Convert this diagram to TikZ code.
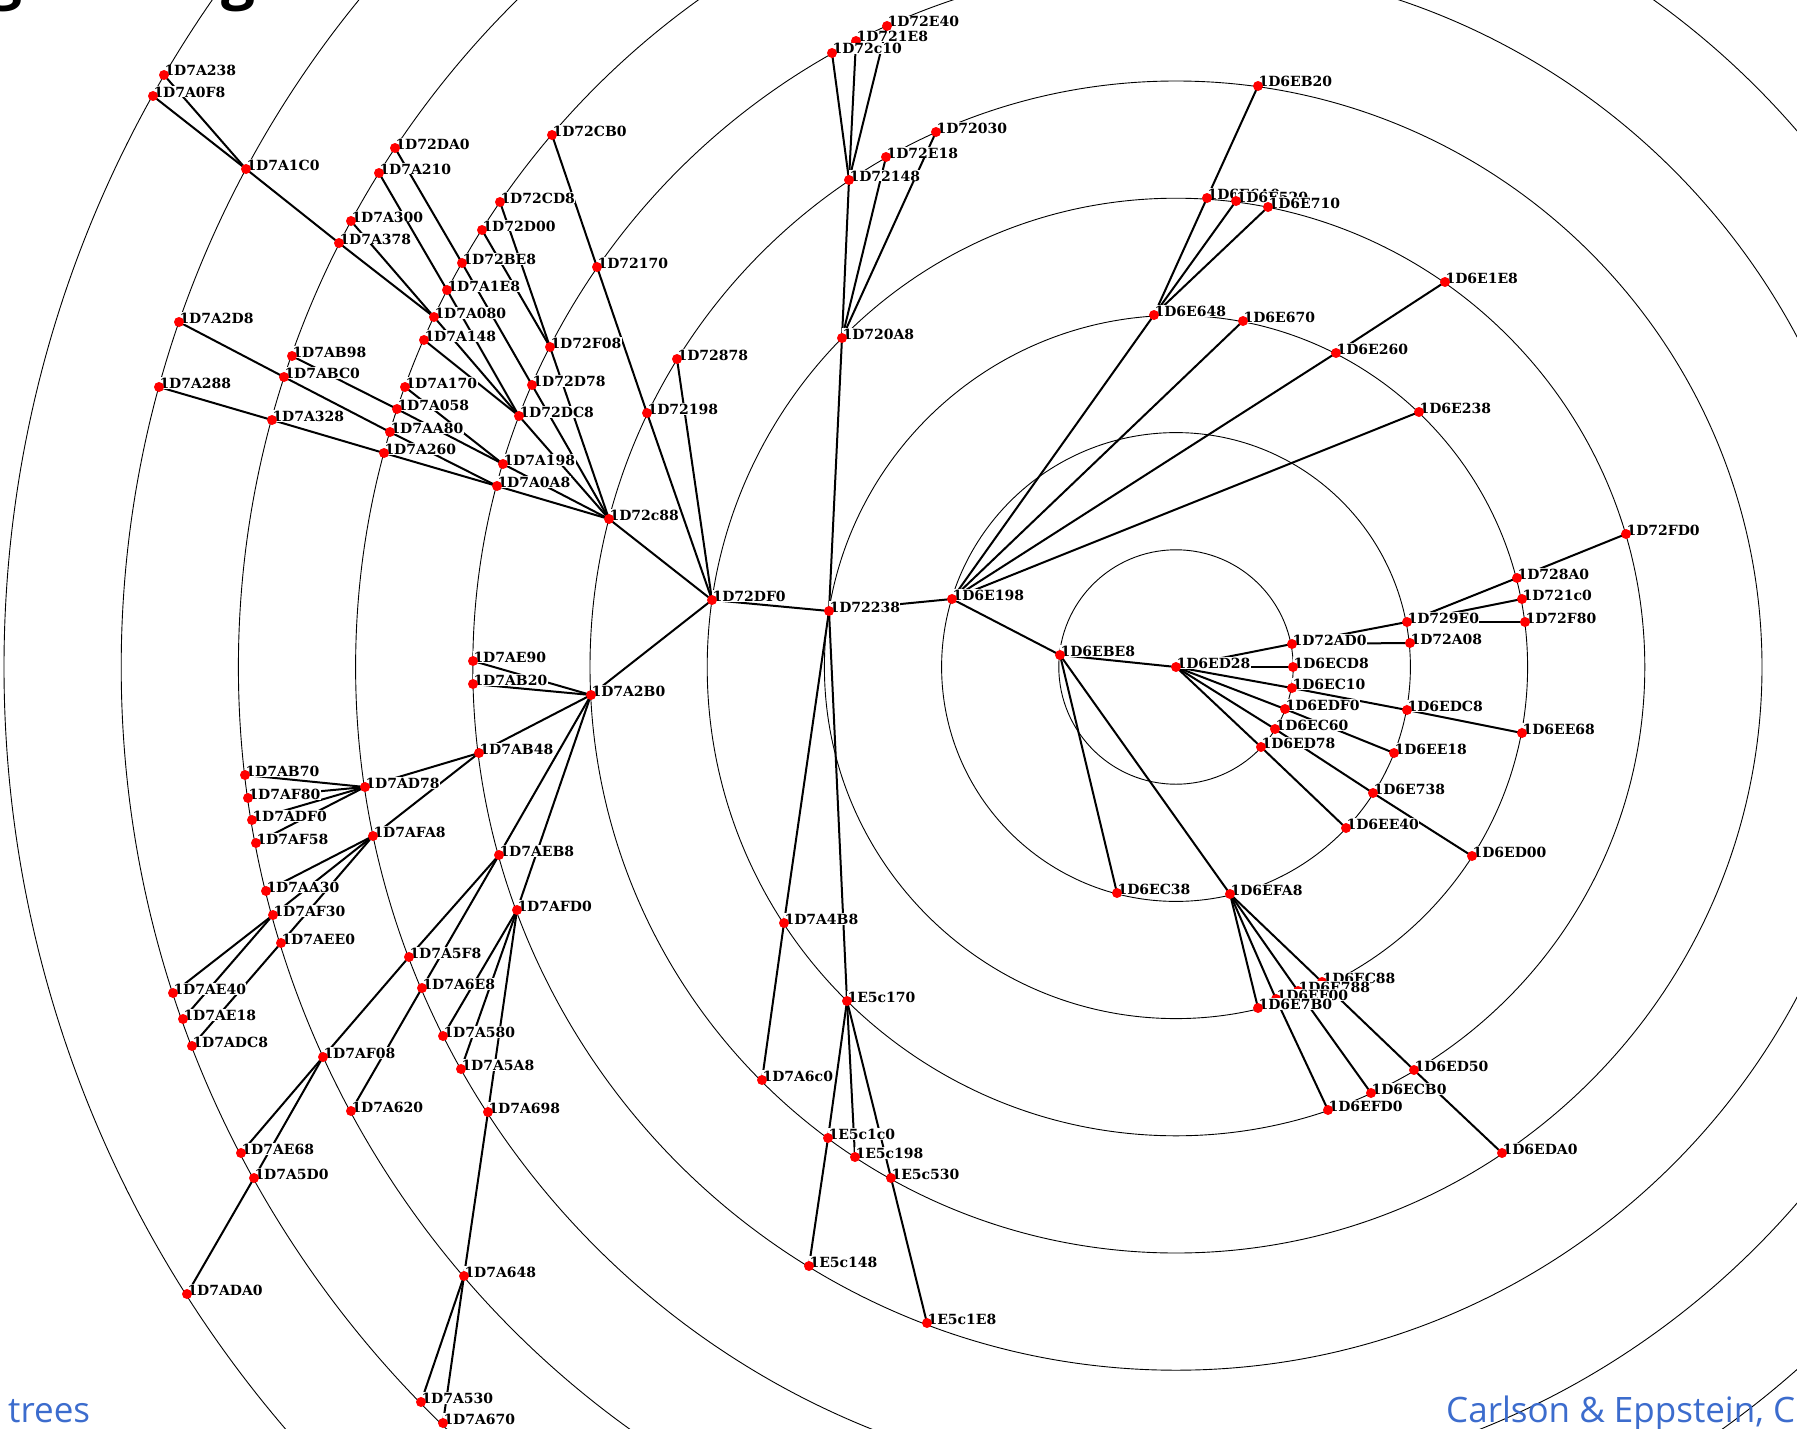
\documentclass[tikz,border=0pt]{standalone}
\usepackage{fontspec}
\setmainfont{Liberation Serif}
\newfontfamily\footfont{Open Sans}
\newfontfamily\labfont{DejaVu Serif}
\definecolor{footblue}{RGB}{60,108,205}
\newcommand\lb[2]{\node[lab] at (#1) {#2};\fill[dotc] (#1) circle[radius=5];}
\begin{document}
\begin{tikzpicture}[x=1pt,y=-1pt,
  ring/.style={line width=0.9pt,black},
  edge/.style={line width=2pt,black},
  lab/.style={anchor=base west,fill=white,inner sep=0.3pt,yshift=-1pt,font=\labfont\bfseries\fontsize{14}{14}\selectfont},
  dotc/.style={fill=red},
  foot/.style={anchor=base west,inner sep=0,text=footblue,font=\footfont\fontsize{35}{35}\selectfont}]
\useasboundingbox (0,0) rectangle (1797,1429);
\coordinate (ctr) at (1176,667);
\foreach \k in {1,...,10} \draw[ring] (ctr) circle[radius=117.2*\k];
% ---- coordinates
\coordinate (eD28) at (1176,667);
\coordinate (eBE8) at (1060,655);
\coordinate (pAD0) at (1292,644);
\coordinate (eCD8) at (1293,667);
\coordinate (eC10) at (1292,688);
\coordinate (eDF0) at (1285,709);
\coordinate (eC60) at (1275,729);
\coordinate (eD78) at (1261,747);
\coordinate (p9E0) at (1407,622);
\coordinate (pA08) at (1410,643);
\coordinate (p8A0) at (1517,578);
\coordinate (p1C0) at (1522,599);
\coordinate (pF80) at (1525,622);
\coordinate (pFD0) at (1626,534);
\coordinate (eDC8) at (1407,710);
\coordinate (eE68) at (1522,733);
\coordinate (eE18) at (1394,753);
\coordinate (e738) at (1373,793);
\coordinate (eD00) at (1472,856);
\coordinate (eE40) at (1346,828);
\coordinate (eC38) at (1117,893);
\coordinate (eFA8) at (1230,894);
\coordinate (e7B0) at (1258,1008);
\coordinate (eX00) at (1276,999);
\coordinate (e788) at (1298,991);
\coordinate (eC88) at (1322,982);
\coordinate (eD50) at (1414,1070);
\coordinate (eCB0) at (1371,1093);
\coordinate (eFD0) at (1328,1110);
\coordinate (eDA0) at (1502,1153);
\coordinate (e198) at (952,599);
\coordinate (e648) at (1154,315);
\coordinate (e670) at (1243,321);
\coordinate (e260) at (1336,353);
\coordinate (e1E8) at (1445,282);
\coordinate (e238) at (1419,412);
\coordinate (eB20) at (1258,86);
\coordinate (eXA) at (1207,198);
\coordinate (eXB) at (1236,201);
\coordinate (e710) at (1268,207);
\coordinate (p238) at (829,611);
\coordinate (p0A8) at (842,338);
\coordinate (p148) at (849,180);
\coordinate (pC10) at (832,53);
\coordinate (p1E8) at (856,41);
\coordinate (pE40) at (887,26);
\coordinate (pE18) at (886,157);
\coordinate (p030) at (936,132);
\coordinate (a4B8) at (784,923);
\coordinate (a6C0) at (762,1080);
\coordinate (c170) at (847,1001);
\coordinate (c1C0) at (828,1138);
\coordinate (c198) at (855,1157);
\coordinate (c530) at (891,1178);
\coordinate (c148) at (809,1266);
\coordinate (c1E8) at (927,1323);
\coordinate (pDF0) at (712,600);
\coordinate (pC88) at (609,519);
\coordinate (p198) at (647,413);
\coordinate (p878) at (677,359);
\coordinate (p170) at (597,267);
\coordinate (pCB0) at (552,135);
\coordinate (pF08) at (550,347);
\coordinate (pD78) at (532,385);
\coordinate (pDC8) at (519,416);
\coordinate (a198) at (503,464);
\coordinate (a0A8) at (497,486);
\coordinate (pCD8) at (500,202);
\coordinate (pD00) at (482,230);
\coordinate (pBE8) at (462,263);
\coordinate (a1E8) at (447,290);
\coordinate (a080) at (434,317);
\coordinate (a148) at (424,340);
\coordinate (a170) at (405,387);
\coordinate (a058) at (397,409);
\coordinate (aA80) at (390,432);
\coordinate (a260) at (384,453);
\coordinate (pDA0) at (395,148);
\coordinate (a210) at (379,173);
\coordinate (a300) at (351,221);
\coordinate (a378) at (339,243);
\coordinate (aB98) at (292,356);
\coordinate (aBC0) at (284,377);
\coordinate (a328) at (272,420);
\coordinate (a1C0) at (246,169);
\coordinate (a2D8) at (179,322);
\coordinate (a288) at (159,387);
\coordinate (a238) at (164,75);
\coordinate (a0F8) at (153,96);
\coordinate (a2B0) at (591,695);
\coordinate (aE90) at (473,661);
\coordinate (aB20) at (473,684);
\coordinate (aB48) at (479,753);
\coordinate (aEB8) at (499,855);
\coordinate (aFD0) at (517,910);
\coordinate (aD78) at (365,787);
\coordinate (aFA8) at (373,836);
\coordinate (aB70) at (245,775);
\coordinate (aF80) at (248,798);
\coordinate (aDF0) at (252,820);
\coordinate (aF58) at (256,843);
\coordinate (aA30) at (266,891);
\coordinate (aF30) at (273,915);
\coordinate (aEE0) at (281,943);
\coordinate (aE40) at (173,993);
\coordinate (aE18) at (183,1019);
\coordinate (aDC8) at (192,1046);
\coordinate (a5F8) at (409,957);
\coordinate (a6E8) at (422,988);
\coordinate (aF08) at (323,1057);
\coordinate (a620) at (351,1111);
\coordinate (aE68) at (241,1153);
\coordinate (a5D0) at (254,1178);
\coordinate (aDA0) at (187,1294);
\coordinate (a580) at (443,1036);
\coordinate (a5A8) at (461,1069);
\coordinate (a698) at (488,1112);
\coordinate (a648) at (464,1276);
\coordinate (a530) at (421,1402);
\coordinate (a670) at (443,1423);
% ---- edges
\foreach \a/\b in {eD28/eBE8,eD28/pAD0,eD28/eCD8,eD28/eC10,eD28/eDF0,eD28/eC60,eD28/eD78,
  pAD0/p9E0,pAD0/pA08,p9E0/p8A0,p9E0/p1C0,p9E0/pF80,p8A0/pFD0,
  eC10/eDC8,eDC8/eE68,eDF0/eE18,eC60/e738,e738/eD00,eD78/eE40,
  eBE8/e198,eBE8/eC38,eBE8/eFA8,
  eFA8/e7B0,eFA8/eX00,eFA8/e788,eFA8/eC88,eX00/eFD0,e788/eCB0,eC88/eD50,eD50/eDA0,
  e198/p238,e198/e648,e198/e670,e198/e260,e198/e238,
  e648/eXA,e648/eXB,e648/e710,eXA/eB20,e260/e1E8,
  p238/pDF0,p238/p0A8,p238/a4B8,p238/c170,
  p0A8/p148,p0A8/pE18,p0A8/p030,
  p148/pC10,p148/p1E8,p148/pE40,
  a4B8/a6C0,
  c170/c1C0,c170/c198,c170/c530,c1C0/c148,c530/c1E8,
  pDF0/pC88,pDF0/p198,pDF0/p878,pDF0/a2B0,
  p198/p170,p170/pCB0,
  pC88/pF08,pC88/pD78,pC88/pDC8,pC88/a198,pC88/a0A8,
  pF08/pCD8,pF08/pD00,
  pD78/pBE8,pBE8/pDA0,
  pDC8/a080,pDC8/a1E8,pDC8/a148,
  a080/a300,a080/a378,a378/a1C0,a1C0/a0F8,a1C0/a238,
  a1E8/a210,
  a198/a058,a198/a170,a058/aB98,
  a0A8/aA80,a0A8/a260,aA80/aBC0,aBC0/a2D8,a260/a328,a328/a288,
  a2B0/aE90,a2B0/aB20,a2B0/aB48,a2B0/aEB8,a2B0/aFD0,
  aB48/aD78,aB48/aFA8,
  aD78/aB70,aD78/aF80,aD78/aDF0,aD78/aF58,
  aFA8/aA30,aFA8/aF30,aFA8/aEE0,
  aF30/aE40,aF30/aE18,aEE0/aDC8,
  aEB8/a5F8,aEB8/a6E8,a5F8/aF08,aF08/aE68,aF08/a5D0,a5D0/aDA0,a6E8/a620,
  aFD0/a580,aFD0/a5A8,aFD0/a698,a698/a648,a648/a530,a648/a670}
  \draw[edge] (\a) -- (\b);
% ---- labels and dots
\lb{eD28}{1D6ED28}
\lb{eBE8}{1D6EBE8}
\lb{pAD0}{1D72AD0}
\lb{eCD8}{1D6ECD8}
\lb{eC10}{1D6EC10}
\lb{eDF0}{1D6EDF0}
\lb{eC60}{1D6EC60}
\lb{eD78}{1D6ED78}
\lb{p8A0}{1D728A0}
\lb{p1C0}{1D721c0}
\lb{p9E0}{1D729E0}
\lb{pF80}{1D72F80}
\lb{pA08}{1D72A08}
\lb{pFD0}{1D72FD0}
\lb{eDC8}{1D6EDC8}
\lb{eE68}{1D6EE68}
\lb{eE18}{1D6EE18}
\lb{e738}{1D6E738}
\lb{eD00}{1D6ED00}
\lb{eE40}{1D6EE40}
\lb{eC38}{1D6EC38}
\lb{eFA8}{1D6EFA8}
\lb{eC88}{1D6EC88}
\lb{e788}{1D6E788}
\lb{eX00}{1D6EF00}
\lb{e7B0}{1D6E7B0}
\lb{eD50}{1D6ED50}
\lb{eCB0}{1D6ECB0}
\lb{eFD0}{1D6EFD0}
\lb{eDA0}{1D6EDA0}
\lb{e198}{1D6E198}
\lb{e648}{1D6E648}
\lb{e670}{1D6E670}
\lb{e260}{1D6E260}
\lb{e1E8}{1D6E1E8}
\lb{e238}{1D6E238}
\lb{eB20}{1D6EB20}
\lb{eXA}{1D6E6A0}
\lb{eXB}{1D6E520}
\lb{e710}{1D6E710}
\lb{p238}{1D72238}
\lb{p0A8}{1D720A8}
\lb{p148}{1D72148}
\lb{pE40}{1D72E40}
\lb{p1E8}{1D721E8}
\lb{pC10}{1D72c10}
\lb{p030}{1D72030}
\lb{pE18}{1D72E18}
\lb{a4B8}{1D7A4B8}
\lb{a6C0}{1D7A6c0}
\lb{c170}{1E5c170}
\lb{c1C0}{1E5c1c0}
\lb{c198}{1E5c198}
\lb{c530}{1E5c530}
\lb{c148}{1E5c148}
\lb{c1E8}{1E5c1E8}
\lb{pDF0}{1D72DF0}
\lb{pC88}{1D72c88}
\lb{p878}{1D72878}
\lb{p198}{1D72198}
\lb{p170}{1D72170}
\lb{pCB0}{1D72CB0}
\lb{pCD8}{1D72CD8}
\lb{pD00}{1D72D00}
\lb{pBE8}{1D72BE8}
\lb{a1E8}{1D7A1E8}
\lb{a080}{1D7A080}
\lb{a148}{1D7A148}
\lb{pF08}{1D72F08}
\lb{pD78}{1D72D78}
\lb{pDC8}{1D72DC8}
\lb{a170}{1D7A170}
\lb{a058}{1D7A058}
\lb{aA80}{1D7AA80}
\lb{a260}{1D7A260}
\lb{a198}{1D7A198}
\lb{a0A8}{1D7A0A8}
\lb{pDA0}{1D72DA0}
\lb{a210}{1D7A210}
\lb{a300}{1D7A300}
\lb{a378}{1D7A378}
\lb{aB98}{1D7AB98}
\lb{aBC0}{1D7ABC0}
\lb{a328}{1D7A328}
\lb{a1C0}{1D7A1C0}
\lb{a2D8}{1D7A2D8}
\lb{a288}{1D7A288}
\lb{a238}{1D7A238}
\lb{a0F8}{1D7A0F8}
\lb{a2B0}{1D7A2B0}
\lb{aE90}{1D7AE90}
\lb{aB20}{1D7AB20}
\lb{aB48}{1D7AB48}
\lb{aEB8}{1D7AEB8}
\lb{aFD0}{1D7AFD0}
\lb{aD78}{1D7AD78}
\lb{aFA8}{1D7AFA8}
\lb{aB70}{1D7AB70}
\lb{aF80}{1D7AF80}
\lb{aDF0}{1D7ADF0}
\lb{aF58}{1D7AF58}
\lb{aA30}{1D7AA30}
\lb{aF30}{1D7AF30}
\lb{aEE0}{1D7AEE0}
\lb{aE40}{1D7AE40}
\lb{aE18}{1D7AE18}
\lb{aDC8}{1D7ADC8}
\lb{a5F8}{1D7A5F8}
\lb{a6E8}{1D7A6E8}
\lb{aF08}{1D7AF08}
\lb{a620}{1D7A620}
\lb{aE68}{1D7AE68}
\lb{a5D0}{1D7A5D0}
\lb{aDA0}{1D7ADA0}
\lb{a580}{1D7A580}
\lb{a5A8}{1D7A5A8}
\lb{a698}{1D7A698}
\lb{a648}{1D7A648}
\lb{a530}{1D7A530}
\lb{a670}{1D7A670}
% ---- footer and title remnants
\node[foot] (ftrees) at (8,1422) {trees};
\node[foot] (fcite) at (1446,1422) {Carlson \& Eppstein, C};
\node[anchor=base west,inner sep=0,font=\footfont\bfseries\fontsize{60}{60}\selectfont] (tg1) at (-12,-2) {g};
\node[anchor=base west,inner sep=0,font=\footfont\bfseries\fontsize{60}{60}\selectfont] (tg2) at (221,-2) {g};
\end{tikzpicture}
\end{document}
